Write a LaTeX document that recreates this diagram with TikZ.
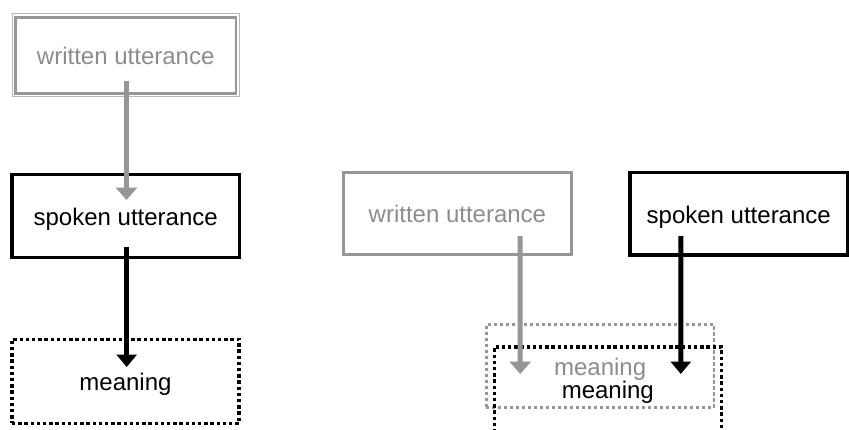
\documentclass[tikz,border=0pt]{standalone}
\usepackage{fontspec}
\setmainfont{Liberation Sans}
\usetikzlibrary{arrows.meta}
\definecolor{gr}{RGB}{150,150,150}
\definecolor{grlight}{RGB}{185,185,185}
\definecolor{grtext}{RGB}{140,140,140}
\tikzset{
  lbl/.style={rectangle, inner sep=0pt, outer sep=0pt, text height=18.4pt, text depth=0pt, font=\fontsize{24}{28}\selectfont},
  graybox/.style={lbl, draw=gr, text=grtext},
  blackbox/.style={lbl, draw=black, line width=3.5pt, text=black},
  blackdots/.style={lbl, draw=black, line width=3.6pt, dash pattern=on 3.4pt off 2.8pt, text=black},
  graydots/.style={lbl, draw=gr, line width=2.8pt, dash pattern=on 3.2pt off 2.8pt, text=grtext},
  garrow/.style={draw=gr, line width=5pt, -{Triangle[length=12.5pt,width=21pt]}},
  barrow/.style={draw=black, line width=5pt, -{Triangle[length=12.5pt,width=20pt]}},
}
\begin{document}
\begin{tikzpicture}[x=1pt,y=-1pt]
\useasboundingbox (0,0) rectangle (849,429);
\clip (0,0) rectangle (849,429);
% left column
\node[graybox, line width=2.7pt, minimum width=220.7pt, minimum height=76.4pt] (w1) at (125.7,55.5) {written utterance};
\draw[grlight, line width=1pt] ([shift={(-3.3pt,3.8pt)}]w1.north west) rectangle ([shift={(3pt,-2.8pt)}]w1.south east);
\node[blackbox, minimum width=227.3pt, minimum height=82.6pt] (s1) at (125.7,216) {spoken utterance};
\node[blackdots, minimum width=227pt, minimum height=84pt] (m1) at (125.5,381.3) {meaning};
\draw[garrow] ([xshift=0.8pt,yshift=-25.5pt]w1.center) -- ([xshift=0.8pt,yshift=16pt]s1.center);
\draw[barrow] ([xshift=1pt,yshift=-31pt]s1.center) -- ([xshift=1.2pt,yshift=14.3pt]m1.center);
% right side
\node[graybox, line width=2.5pt, minimum width=227.8pt, minimum height=82.2pt] (w2) at (457.4,213.6) {written utterance};
\node[blackbox, minimum width=217.5pt, minimum height=82.3pt] (s2) at (738.75,213.8) {spoken utterance};
\node[graydots, minimum width=227.8pt, minimum height=83.3pt] (m2g) at (600.1,366.2) {meaning};
\node[blackdots, minimum width=227pt, minimum height=90pt, text depth=6pt] (m2b) at (607.8,391.8) {meaning};
\draw[garrow] ([xshift=62.8pt,yshift=-22.4pt]w2.center) -- ([xshift=-79.9pt,yshift=-7.8pt]m2g.center);
\draw[barrow] ([xshift=-57.9pt,yshift=-22.2pt]s2.center) -- ([xshift=73pt,yshift=17.8pt]m2b.center);
\end{tikzpicture}
\end{document}
